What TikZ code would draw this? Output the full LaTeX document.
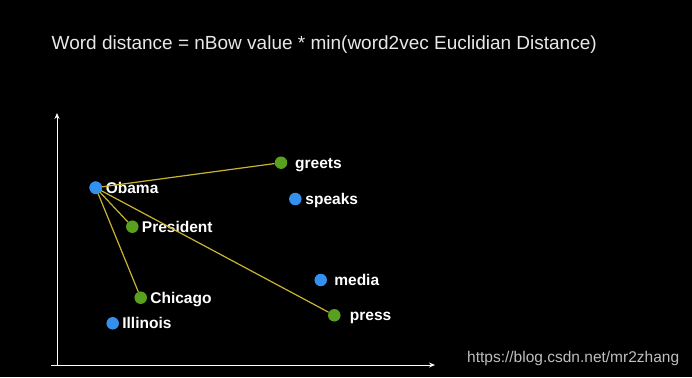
\documentclass[tikz,border=0pt]{standalone}
\usepackage{fontspec}
\setmainfont{Liberation Sans}
\usetikzlibrary{arrows.meta, positioning}
\definecolor{dotblue}{RGB}{52,144,238}
\definecolor{dotgreen}{RGB}{88,160,30}
\definecolor{linkyellow}{RGB}{200,180,50}
\definecolor{titlegray}{RGB}{232,232,232}
\definecolor{markgray}{RGB}{190,190,190}
\tikzset{
  bluedot/.style={circle,fill=dotblue,inner sep=0pt,minimum size=12.5pt},
  greendot/.style={circle,fill=dotgreen,inner sep=0pt,minimum size=12.5pt},
  word/.style={text=white,font=\fontsize{15.5}{18}\selectfont\bfseries,inner sep=0pt,anchor=base west,yshift=-5.5pt},
  link/.style={draw=linkyellow,line width=1.2pt},
  axis/.style={draw=white,line width=0.9pt,-{Stealth[length=6pt,width=5pt]}}
}
\begin{document}
\begin{tikzpicture}[x=1pt,y=-1pt]
\fill[black] (0,0) rectangle (692,377);
\useasboundingbox (0,0) rectangle (692,377);
\node[anchor=west,text=titlegray,font=\fontsize{19}{22}\selectfont,inner sep=0pt] (title) at (51.5,45) {Word distance = nBow value * min(word2vec Euclidian Distance)};
% axes
\coordinate (origin) at (57,365);
\coordinate (ytip) at (57,113);
\coordinate (xstart) at (51,365);
\coordinate (xtip) at (435,365);
\draw[axis] (origin) -- (ytip);
\draw[axis] (xstart) -- (xtip);
% words
\node[bluedot] (obama) at (95.7,187.7) {};
\node[greendot] (greets) at (281,162.7) {};
\node[bluedot] (speaks) at (295.3,199) {};
\node[greendot] (president) at (132.3,226.7) {};
\node[bluedot] (media) at (320.7,280) {};
\node[greendot] (chicago) at (140.7,297.7) {};
\node[greendot] (press) at (334.3,315.3) {};
\node[bluedot] (illinois) at (112.7,323.3) {};
\node[right=3.5pt of obama, word] (obamatxt) {Obama};
\node[right=7.5pt of greets, word] (greetstxt) {greets};
\node[right=3.5pt of speaks, word] (speakstxt) {speaks};
\node[right=3pt of president, word] (presidenttxt) {President};
\node[right=7pt of media, word] (mediatxt) {media};
\node[right=3pt of chicago, word] (chicagotxt) {Chicago};
\node[right=9pt of press, word] (presstxt) {press};
\node[right=3pt of illinois, word] (illinoistxt) {Illinois};
% nearest matches
\draw[link] (obama.center) -- (greets);
\draw[link] (obama.center) -- (president);
\draw[link] (obama.center) -- (chicago);
\draw[link] (obama.center) -- (press);
\node[bluedot] (obamatop) at (obama) {};
\node[anchor=west,text=markgray,font=\fontsize{15.5}{18}\selectfont,inner sep=0pt] (mark) at (467,358) {https://blog.csdn.net/mr2zhang};
\end{tikzpicture}
\end{document}
